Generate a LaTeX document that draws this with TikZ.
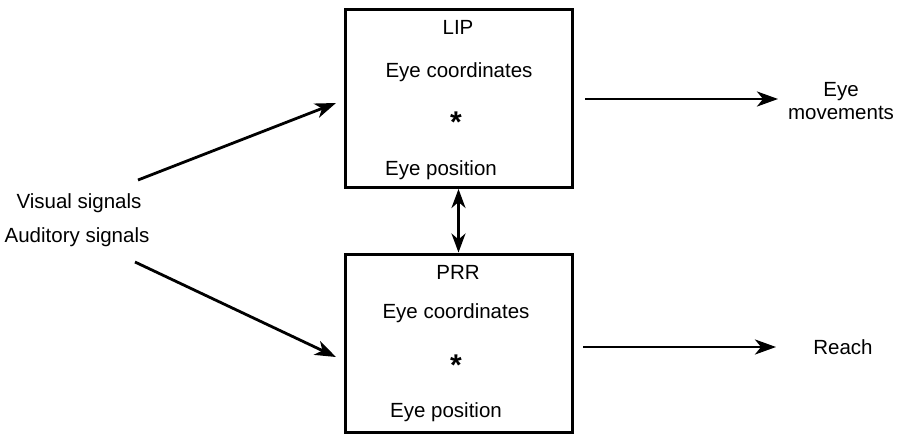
\documentclass[tikz,border=0pt]{standalone}
\usepackage{fontspec}
\setmainfont{Liberation Sans}
\usetikzlibrary{arrows.meta}
\begin{document}
\begin{tikzpicture}[x=1pt,y=-1pt,
  area/.style={draw, line width=3pt, minimum width=227pt, minimum height=178pt, inner sep=0pt},
  lbl/.style={font=\fontsize{20.5}{23}\selectfont, inner sep=0pt, anchor=center, align=center},
  star/.style={font=\fontsize{30}{30}\selectfont\bfseries, inner sep=0pt, anchor=center},
  conn/.style={line width=2.8pt, -{Stealth[length=21pt,width=15pt,inset=6pt]}},
  dconn/.style={line width=2.8pt, {Stealth[length=19pt,width=14pt,inset=6pt]}-{Stealth[length=19pt,width=14pt,inset=6pt]}}]
\useasboundingbox (0,0) rectangle (900,434);
\node[area] (lip) at (458.5,98.5) {};
\node[area] (prr) at (458.5,343) {};
\node[lbl] (liptitle) at (458,27) {LIP};
\node[lbl] (lipec) at (459,72) {Eye coordinates};
\node[star] (lipstar) at (456,122) {*};
\node[lbl] (lipep) at (441,170) {Eye position};
\node[lbl] (prrtitle) at (458,272) {PRR};
\node[lbl] (prrec) at (456,313) {Eye coordinates};
\node[star] (prrstar) at (456,365) {*};
\node[lbl] (prrep) at (446,412) {Eye position};
\node[lbl] (vis) at (79,203) {Visual signals};
\node[lbl] (aud) at (77,237) {Auditory signals};
\node[lbl] (eyem) at (841,101) {Eye\\movements};
\node[lbl] (reach) at (843,347) {Reach};
\coordinate (v0) at (138,180);
\coordinate (v1) at (336,103);
\coordinate (a0) at (135,262);
\coordinate (a1) at (336,357);
\coordinate (e0) at (585,99);
\coordinate (e1) at (778,99);
\coordinate (r0) at (583,347);
\coordinate (r1) at (776,347);
\draw[conn] (v0) -- (v1);
\draw[conn] (a0) -- (a1);
\draw[conn] (e0) -- (e1);
\draw[conn] (r0) -- (r1);
\draw[dconn] (lip.south) -- (prr.north);
\end{tikzpicture}
\end{document}
